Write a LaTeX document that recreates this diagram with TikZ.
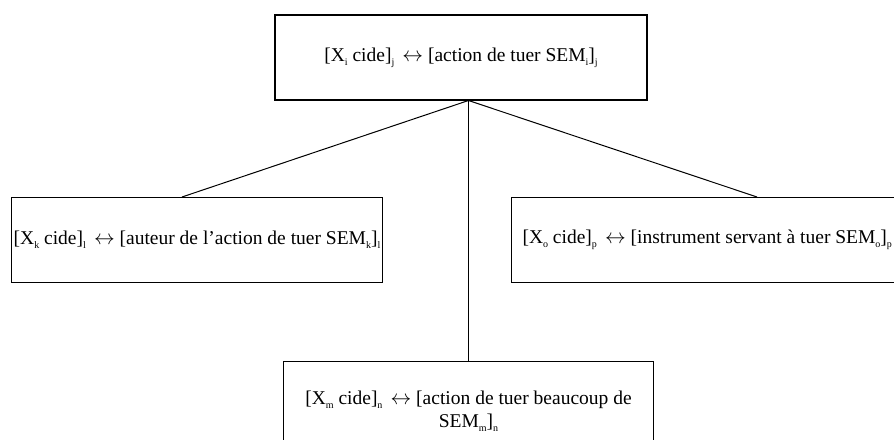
\documentclass[tikz,border=0pt]{standalone}
\usepackage{fontspec}
\setmainfont{Liberation Serif}
\newcommand{\idx}[1]{\raisebox{-0.45ex}{\fontsize{10}{10}\selectfont #1}}
\newcommand{\eqv}{\ \,$\leftrightarrow$\ }

\begin{document}
\begin{tikzpicture}[
  x=1pt, y=-1pt,
  every node/.style={font=\fontsize{19.5}{23}\selectfont},
  box/.style={draw, line width=1pt, minimum height=85pt, inner sep=2pt},
  topbox/.style={box, line width=2.8pt},
  edge/.style={draw, line width=1pt}]

  \useasboundingbox (0,0) rectangle (894,439);

  \node[topbox, minimum width=372pt] (Xi) at (461,57.5)
    {[X\idx{i} cide]\idx{j}\eqv[action de tuer SEM\idx{i}]\idx{j}};
  \node[box, minimum width=371pt, anchor=west] (Xk) at (11,239.5)
    {[X\idx{k} cide]\idx{l}\eqv[auteur de l'action de tuer SEM\idx{k}]\idx{l}};
  \node[box, anchor=west, inner xsep=11pt] (Xo) at (511,239.5)
    {[X\idx{o} cide]\idx{p}\eqv[instrument servant à tuer SEM\idx{o}]\idx{p}};
  \node[box, minimum width=370pt, minimum height=100pt, anchor=north, align=center] (Xm) at (468.5,361)
    {[X\idx{m} cide]\idx{n}\eqv[action de tuer beaucoup de\\SEM\idx{m}]\idx{n}};

  \coordinate (hub)  at (468.5,100.5);
  \coordinate (kend) at (182,197);
  \coordinate (oend) at (757,197);

  \draw[edge] (hub) -- (kend);
  \draw[edge] (hub) -- (oend);
  \draw[edge] (hub) -- (Xm.north);

\end{tikzpicture}
\end{document}
